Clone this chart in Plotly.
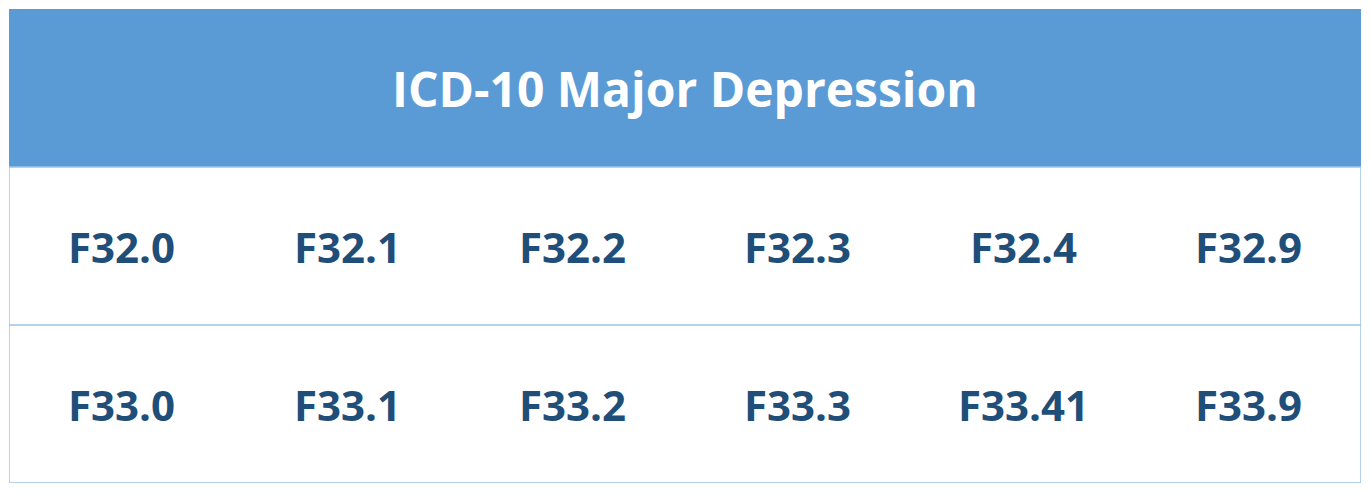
import plotly.graph_objects as go

title = "ICD-10 Major Depression"
row1 = ["F32.0", "F32.1", "F32.2", "F32.3", "F32.4", "F32.9"]
row2 = ["F33.0", "F33.1", "F33.2", "F33.3", "F33.41", "F33.9"]

header_color = "#5B9BD5"
text_color = "#1F4E79"
line_color = "#9DC3E6"

fig = go.Figure()

# header band and row boxes (y: 0 bottom .. 3 top)
fig.add_shape(type="rect", x0=0, x1=6, y0=2, y1=3, fillcolor=header_color,
              line=dict(color=header_color, width=1), layer="below")
fig.add_shape(type="rect", x0=0, x1=6, y0=0, y1=2, fillcolor="white",
              line=dict(color=line_color, width=1.5), layer="below")
fig.add_shape(type="line", x0=0, x1=6, y0=1, y1=1, line=dict(color=line_color, width=1.5))

fig.add_annotation(x=3, y=2.5, text="<b>" + title + "</b>", showarrow=False,
                   font=dict(size=48, color="white", family="Open Sans"))

for row, yc in [(row1, 1.5), (row2, 0.5)]:
    for i, code in enumerate(row):
        fig.add_annotation(x=i + 0.5, y=yc, text="<b>" + code + "</b>", showarrow=False,
                           font=dict(size=42, color=text_color, family="Open Sans"))

fig.update_layout(
    autosize=True,
    margin=dict(l=1, r=1, t=1, b=2),
    paper_bgcolor="white", plot_bgcolor="white",
    xaxis=dict(range=[0, 6], visible=False, fixedrange=True),
    yaxis=dict(range=[0, 3.0], visible=False, fixedrange=True),
    showlegend=False,
)

fig.write_html("out.html", default_width="100%", default_height="100%",
               config={"displayModeBar": False})
